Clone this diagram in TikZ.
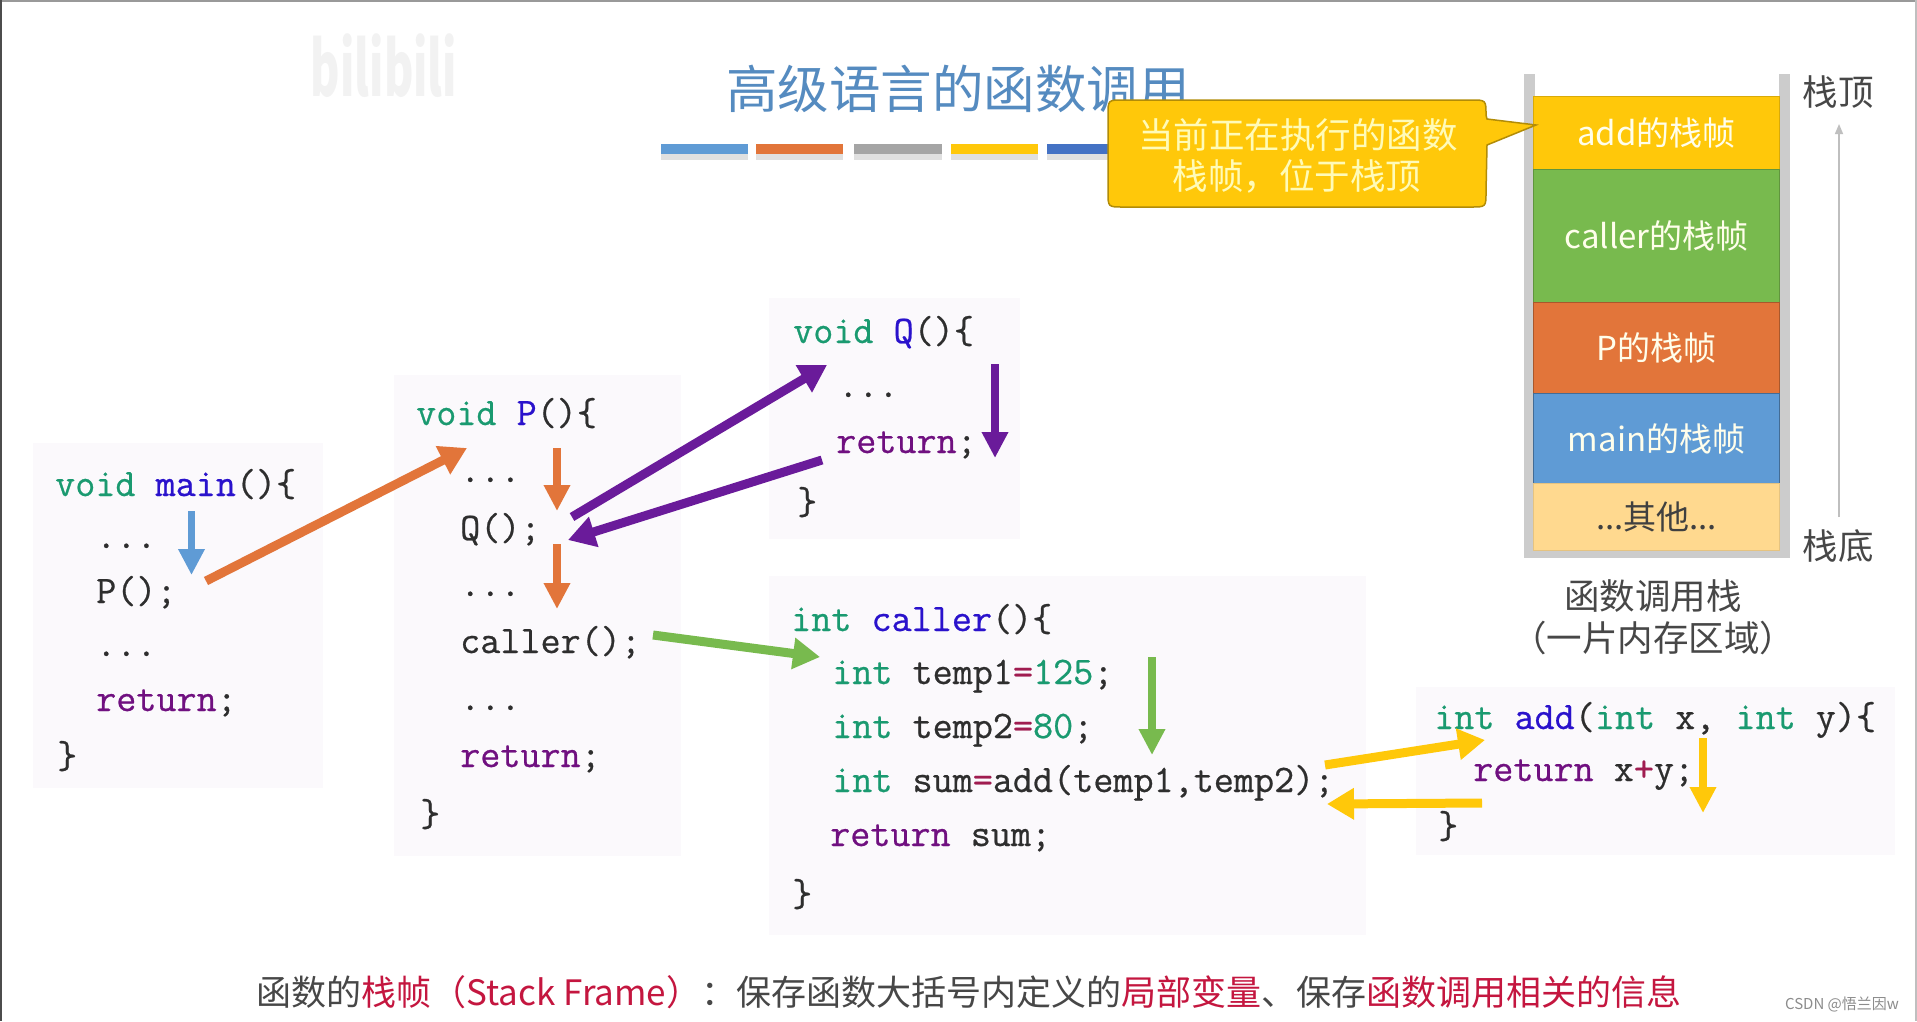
\documentclass[tikz,border=0pt]{standalone}
\usepackage{fontspec}
\usepackage{xcolor}
\usetikzlibrary{arrows.meta}
\setmainfont{Noto Sans CJK SC}
\setsansfont{Noto Sans CJK SC}
\newfontfamily\codefont[FakeBold=0.6]{Latin Modern Mono}
\definecolor{kwg}{HTML}{1A9A70}
\definecolor{fnb}{HTML}{2A12CC}
\definecolor{rtp}{HTML}{701080}
\definecolor{opr}{HTML}{A01C50}
\definecolor{txtd}{HTML}{2E2E2E}
\definecolor{cblue}{HTML}{5F9BD5}
\definecolor{corange}{HTML}{E2753A}
\definecolor{cgray}{HTML}{A5A5A5}
\definecolor{cyellow}{HTML}{FFC80A}
\definecolor{cdeep}{HTML}{4472C4}
\definecolor{cgreen}{HTML}{78BA4E}
\definecolor{cpurple}{HTML}{6A1B9A}
\definecolor{cother}{HTML}{FFD98F}
\definecolor{redt}{HTML}{C4163F}
\definecolor{boxbg}{HTML}{FBF9FC}
\newcommand{\kw}[1]{\textcolor{kwg}{#1}}
\newcommand{\fn}[1]{\textcolor{fnb}{#1}}
\newcommand{\rt}[1]{\textcolor{rtp}{#1}}
\newcommand{\opx}[1]{\textcolor{opr}{#1}}
\newcommand{\rd}[1]{\textcolor{redt}{#1}}
\tikzset{
  x=1pt,y=-1pt,
  codebox/.style={draw=none,fill=boxbg},
  code/.style={anchor=base west,inner sep=0pt,text=txtd,font=\fontsize{39}{41}\codefont\selectfont},
  bigarrow/.style={line width=9pt,-{Triangle[width=30pt,length=27pt]}},
  thinarrow/.style={line width=7.5pt,-{Triangle[width=25pt,length=26pt]}},
  frame/.style={minimum width=246pt,anchor=north west,inner sep=0pt,line width=1.2pt},
  cjk/.style={inner sep=0pt,text=black!72,font=\fontsize{35.5}{40}\selectfont},
  stacktxt/.style={inner sep=0pt,text=white!92!yellow,font=\fontsize{33}{40}\selectfont},
  calltxt/.style={inner sep=0pt,text=white!72!yellow,font=\fontsize{35.5}{40}\selectfont},
  barshadow/.style={fill=black!12},
}
\begin{document}
\begin{tikzpicture}
\useasboundingbox (0,0) rectangle (1917,1021);
\fill[white] (0,0) rectangle (1917,1021);
\fill[black!40] (0,0) rectangle (1917,2);
\fill[black!70] (0,0) rectangle (2,1021);
\fill[black!25] (1915,0) rectangle (1917,1021);

% watermark
\node[inner sep=0pt,text=black!5,font=\fontsize{70}{72}\sffamily\bfseries\selectfont,transform shape,xscale=0.64,yscale=1.08] (wm) at (384,66) {bilibili};

% title
\node[inner sep=0pt,text=cblue!90!black,font=\fontsize{51.5}{56}\selectfont] (title) at (958,89) {高级语言的函数调用};
\foreach \xa/\xb/\c in {661/748/cblue,756/843/corange,854/942/cgray,951/1038/cyellow,1047/1134/cdeep}{
  \fill[barshadow] (\xa,154) rectangle (\xb,160);
  \fill[\c] (\xa,144) rectangle (\xb,154);
}

% code boxes
\fill[codebox] (33,443) rectangle (323,788);
\fill[codebox] (394,375) rectangle (681,856);
\fill[codebox] (769,298) rectangle (1020,539);
\fill[codebox] (769,576) rectangle (1366,935);
\fill[codebox] (1416,687) rectangle (1895,855);

% main
\node[code] (m1) at (55,496) {\kw{void} \fn{main}()\{};
\node[code] (m2) at (96,548) {...};
\node[code] (m3) at (96,603) {P();};
\node[code] (m4) at (96,656) {...};
\node[code] (m5) at (96,711) {\rt{return};};
\node[code] (m6) at (57,768) {\}};
% P
\node[code] (p1) at (416,425) {\kw{void} \fn{P}()\{};
\node[code] (p2) at (460,482) {...};
\node[code] (p3) at (460,540) {Q();};
\node[code] (p4) at (460,596) {...};
\node[code] (p5) at (460,653) {caller();};
\node[code] (p6) at (460,710) {...};
\node[code] (p7) at (460,767) {\rt{return};};
\node[code] (p8) at (420,826) {\}};
% Q
\node[code] (q1) at (793,343) {\kw{void} \fn{Q}()\{};
\node[code] (q2) at (838,397) {...};
\node[code] (q3) at (836,453) {\rt{return};};
\node[code] (q4) at (797,514) {\}};
% caller
\node[code] (c1) at (791,631) {\kw{int} \fn{caller}()\{};
\node[code] (c2) at (832,684) {\kw{int} temp1\opx{=}\kw{125};};
\node[code] (c3) at (832,738) {\kw{int} temp2\opx{=}\kw{80};};
\node[code] (c4) at (832,792) {\kw{int} sum\opx{=}add(temp1,temp2);};
\node[code] (c5) at (830,846) {\rt{return} sum;};
\node[code] (c6) at (792,906) {\}};
% add
\node[code] (a1) at (1434,729) {\kw{int} \fn{add}(\kw{int} x, \kw{int} y)\{};
\node[code] (a2) at (1473,781) {\rt{return} x\opx{+}y;};
\node[code] (a3) at (1438,838) {\}};

% connector ends
\coordinate (bl1) at (191.5,511);
\coordinate (bl2) at (191.5,575);
\coordinate (oa1) at (206,581);
\coordinate (oa2) at (467,448);
\coordinate (ob1) at (557,448);
\coordinate (ob2) at (557,511);
\coordinate (oc1) at (557,544);
\coordinate (oc2) at (557,609);
\coordinate (pa1) at (572,517);
\coordinate (pa2) at (827,365);
\coordinate (pb1) at (822,460);
\coordinate (pb2) at (568,540);
\coordinate (pc1) at (995,364);
\coordinate (pc2) at (995,458);
\coordinate (ga1) at (653,635);
\coordinate (ga2) at (820,657);
\coordinate (gb1) at (1152,657);
\coordinate (gb2) at (1152,755);
\coordinate (ya1) at (1325,765);
\coordinate (ya2) at (1485,740);
\coordinate (yb1) at (1482,803);
\coordinate (yb2) at (1327,804);
\coordinate (yc1) at (1703,738);
\coordinate (yc2) at (1703,813);

\draw[thinarrow,cblue] (bl1) -- (bl2);
\draw[bigarrow,corange] (oa1) -- (oa2);
\draw[thinarrow,corange] (ob1) -- (ob2);
\draw[thinarrow,corange] (oc1) -- (oc2);
\draw[bigarrow,cpurple] (pa1) -- (pa2);
\draw[bigarrow,cpurple] (pb1) -- (pb2);
\draw[thinarrow,cpurple] (pc1) -- (pc2);
\draw[bigarrow,cgreen] (ga1) -- (ga2);
\draw[thinarrow,cgreen] (gb1) -- (gb2);
\draw[bigarrow,cyellow] (ya1) -- (ya2);
\draw[bigarrow,cyellow] (yb1) -- (yb2);
\draw[thinarrow,cyellow] (yc1) -- (yc2);

% stack container
\fill[black!20] (1524,74) rectangle (1535,558);
\fill[black!20] (1779,74) rectangle (1790,558);
\fill[black!20] (1524,550) rectangle (1790,558);

% stack frames
\node[frame,minimum height=73pt,fill=cyellow,draw=cyellow!85!black] (fadd) at (1533,96) {};
\node[frame,minimum height=133pt,fill=cgreen,draw=cgreen!80!black] (fcaller) at (1533,169) {};
\node[frame,minimum height=91pt,fill=corange,draw=corange!75!black] (fp) at (1533,302) {};
\node[frame,minimum height=90pt,fill=cblue,draw=cblue!70!black] (fmain) at (1533,393) {};
\node[frame,minimum height=67pt,fill=cother,draw=cother!90!black] (fother) at (1533,483) {};
\node[stacktxt] (tadd) at (fadd.center) {add的栈帧};
\node[stacktxt] (tcaller) at (fcaller.center) {caller的栈帧};
\node[stacktxt] (tp) at (fp.center) {P的栈帧};
\node[stacktxt] (tmain) at (fmain.center) {main的栈帧};
\node[stacktxt,text=black!75] (tother) at (fother.center) {...其他...};

% callout
\filldraw[fill=cyellow,draw=cyellow!70!black,line width=1.5pt]
  (1123,100) -- (1471,100) .. controls (1486,100) .. (1486,115) -- (1487,119) -- (1536,125) -- (1487,145)
  -- (1486,192) .. controls (1486,207) .. (1471,207) -- (1123,207) .. controls (1108,207) .. (1108,192)
  -- (1108,115) .. controls (1108,100) .. (1123,100) -- cycle;
\node[calltxt] (cl1) at (1298,135) {当前正在执行的函数};
\node[calltxt] (cl2) at (1297,176) {栈帧，位于栈顶};

% right labels
\node[cjk] (top) at (1838,92) {栈顶};
\node[cjk] (bot) at (1838,546) {栈底};
\coordinate (ar1) at (1839,517);
\coordinate (ar2) at (1839,124);
\draw[line width=1.5pt,black!25,-{Triangle[width=8pt,length=10pt]}] (ar1) -- (ar2);

\node[cjk] (cap1) at (1653,596) {函数调用栈};
\node[cjk] (cap2) at (1653,638) {（一片内存区域）};

% bottom sentence
\node[inner sep=0pt,text=black!72,font=\fontsize{35}{40}\selectfont,anchor=center] (note) at (969,992)
 {函数的\rd{栈帧（Stack Frame）}：保存函数大括号内定义的\rd{局部变量}、保存\rd{函数调用相关的信息}};

\node[inner sep=0pt,text=black!45,font=\fontsize{15}{18}\selectfont] (csdn) at (1842,1004) {CSDN @悟兰因w};
\end{tikzpicture}
\end{document}
